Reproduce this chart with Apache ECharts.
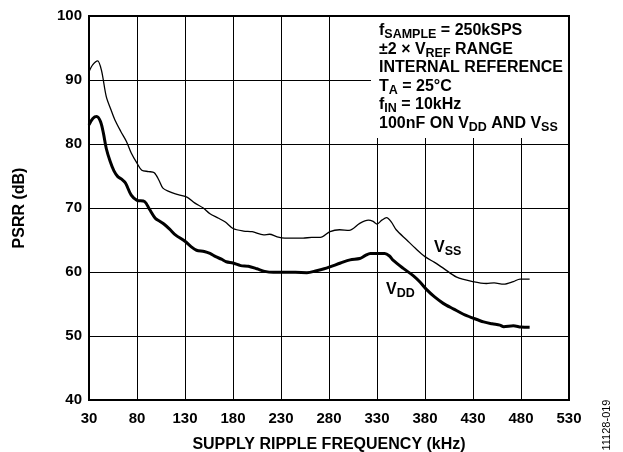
<!DOCTYPE html>
<html><head><meta charset="utf-8">
<script src="https://cdn.jsdelivr.net/npm/echarts@6/dist/echarts.min.js"></script>
<style>html,body{margin:0;padding:0;background:#fff}#c{width:623px;height:452px}</style>
</head><body><div id="c"></div>
<script>
// Supply ripple frequency (kHz) and PSRR (dB)
const vssFreq = [30,34,39,43,48,53,57,63,69,74,80,85,92,98,103,107,113,120,132,140,149,156,165,172,180,191,200,212,218,226,234,243,253,262,271,281,291,301,312,321,326,330,335,340,345,350,361,370,380,390,399,413,430,444,452,462,472,479,489];
const vssPsrr = [91.3,92.4,93.0,91.5,87.4,85.3,83.75,82.0,80.4,78.6,77.0,75.9,75.7,75.5,74.3,73.1,72.6,72.2,71.7,70.8,70.0,69.1,68.4,67.8,66.8,66.4,66.3,65.8,65.9,65.5,65.3,65.3,65.3,65.4,65.4,66.3,66.6,66.5,67.6,68.1,67.9,67.5,68.1,68.5,67.8,66.6,65.0,63.7,62.4,61.5,60.6,59.2,58.5,58.2,58.3,58.1,58.5,58.9,58.9];
const vddFreq = [30,34,38,42,45,48,52,56,60,64,68,74,80,88,93,99,104,108,114,120,130,136,142,150,156,162,168,173,180,188,196,205,213,222,231,245,257,267,275,281,292,302,312,318,323,338,343,347,357,368,375,382,390,399,410,420,430,441,450,458,462,472,480,489];
const vddPsrr = [83.0,84.0,84.3,83.5,81.7,79.3,77.3,75.8,74.9,74.5,73.9,72.0,71.2,71.0,69.8,68.4,67.9,67.5,66.7,65.8,64.8,64.0,63.4,63.2,62.9,62.4,62.0,61.6,61.4,61.0,60.9,60.5,60.1,59.95,59.95,59.95,59.9,60.2,60.5,60.8,61.4,61.9,62.1,62.6,62.9,62.9,62.5,61.8,60.6,59.4,58.4,57.2,56.1,55.1,54.2,53.4,52.8,52.2,51.9,51.7,51.45,51.6,51.4,51.35];
const xRange = [30, 530];
const xStep = 50;
const yRange = [40, 100];
const yStep = 10;

const FONT = "'Liberation Sans', Arial, Helvetica, sans-serif";
const zip = (a, b) => a.map((v, i) => [v, b[i]]);
const chart = echarts.init(document.getElementById('c'), null, {renderer: 'canvas'});

const mainStyle = {fontSize: 16, fontWeight: 'bold', fontFamily: FONT, color: '#000', lineHeight: 18.6};
const subStyle = {fontSize: 12.5, fontWeight: 'bold', fontFamily: FONT, color: '#000', lineHeight: 18.6, padding: [8, 0, 0, 0]};
const rich = {n: mainStyle, s: subStyle};

const noteText = [
  '{n|f}{s|SAMPLE}{n| = 250kSPS}',
  '{n|±2 × V}{s|REF}{n| RANGE}',
  '{n|INTERNAL REFERENCE}',
  '{n|T}{s|A}{n| = 25°C}',
  '{n|f}{s|IN}{n| = 10kHz}',
  '{n|100nF ON V}{s|DD}{n| AND V}{s|SS}'
].join('\n');

const axisCommon = {
  axisLine: {show: true, lineStyle: {color: '#000', width: 2}},
  axisTick: {show: false},
  splitLine: {show: true, lineStyle: {color: '#000', width: 1}},
  axisLabel: {color: '#000', fontSize: 15, fontWeight: 'bold', fontFamily: FONT}
};

chart.setOption({
  animation: false,
  backgroundColor: '#fff',
  grid: {left: 89, right: 54, top: 16, bottom: 52, show: true, borderColor: '#000', borderWidth: 2,
         containLabel: false, outerBoundsMode: 'none'},
  xAxis: Object.assign({}, axisCommon, {
    type: 'value', min: xRange[0], max: xRange[1], interval: xStep,
    axisLabel: Object.assign({}, axisCommon.axisLabel, {margin: 11}),
    name: 'SUPPLY RIPPLE FREQUENCY (kHz)', nameLocation: 'middle', nameGap: 36.5,
    nameTextStyle: {color: '#000', fontSize: 16, fontWeight: 'bold', fontFamily: FONT}
  }),
  yAxis: Object.assign({}, axisCommon, {
    type: 'value', min: yRange[0], max: yRange[1], interval: yStep,
    axisLabel: Object.assign({}, axisCommon.axisLabel, {margin: 7}),
    name: 'PSRR (dB)', nameLocation: 'middle', nameGap: 61,
    nameTextStyle: {color: '#000', fontSize: 16, fontWeight: 'bold', fontFamily: FONT}
  }),
  series: [
    {name: 'VSS', type: 'line', data: zip(vssFreq, vssPsrr), showSymbol: false, smooth: 0.3, z: 10,
     lineStyle: {color: '#000', width: 1.3}},
    {name: 'VDD', type: 'line', data: zip(vddFreq, vddPsrr), showSymbol: false, smooth: 0.3, z: 10,
     lineStyle: {color: '#000', width: 3}}
  ],
  graphic: [
    {type: 'rect', z: 5, shape: {x: 371, y: 17, width: 197, height: 121}, style: {fill: '#fff'}},
    {type: 'text', z: 6, style: {x: 379, y: 21.2, text: noteText, rich: rich, verticalAlign: 'top', align: 'left'}},
    {type: 'text', z: 6, style: {x: 434, y: 247.5, text: '{n|V}{s|SS}', rich: rich, verticalAlign: 'middle', align: 'left'}},
    {type: 'text', z: 6, style: {x: 386, y: 290, text: '{n|V}{s|DD}', rich: rich, verticalAlign: 'middle', align: 'left'}},
    {type: 'text', z: 6, x: 607, y: 425, rotation: Math.PI / 2,
     style: {x: 0, y: 0, text: '11128-019', fontSize: 11, fontFamily: FONT, fill: '#000', align: 'center', verticalAlign: 'middle'}}
  ]
});
</script>
</body></html>
